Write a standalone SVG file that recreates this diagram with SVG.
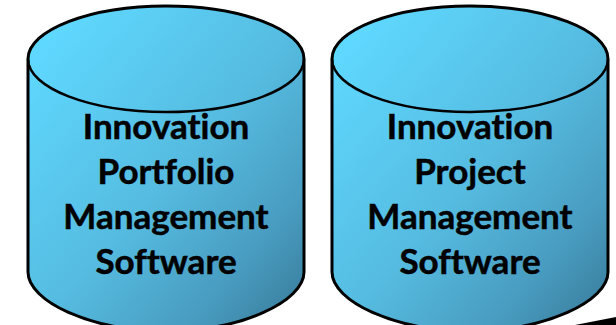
<svg xmlns="http://www.w3.org/2000/svg" width="616" height="325" viewBox="0 0 616 325">
<defs>
<linearGradient id="g" gradientUnits="objectBoundingBox" x1="0.08" y1="0.08" x2="0.95" y2="0.98">
<stop offset="0" stop-color="#5fd8ff"/><stop offset="0.5" stop-color="#56bbe0"/><stop offset="0.8" stop-color="#489cc0"/><stop offset="1" stop-color="#3a7d9c"/>
</linearGradient>
<path id="cyl" d="M28 59C28 30 90 6 166 6S304 30 304 59V272C304 301 242 331 166 331S28 301 28 272Z"/>
</defs>
<style>
.b{fill:url(#g);stroke:#000;stroke-width:3}
.r{fill:none;stroke:#000;stroke-width:2.5}
text{font-family:Lato,"Open Sans",sans-serif;font-weight:700;font-size:35px;font-variant-ligatures:none;fill:#000;stroke:#000;stroke-width:0.5;text-anchor:middle}
</style>
<rect width="616" height="325" fill="#fff"/>
<path d="M575 325L616 317V325Z" fill="#000"/>
<g id="node-portfolio">
<use href="#cyl" class="b"/>
<path class="r" d="M28 59C28 88 90 112 166 112S304 88 304 59"/>
<text x="166" y="139">Innovation</text>
<text x="166" y="184">Portfolio</text>
<text x="166" y="229">Management</text>
<text x="166" y="274">Software</text>
</g>
<g id="node-project" transform="translate(304 0)">
<use href="#cyl" class="b"/>
<path class="r" d="M28 59C28 88 90 112 166 112S304 88 304 59"/>
<text x="166" y="139">Innovation</text>
<text x="166" y="184">Project</text>
<text x="166" y="229">Management</text>
<text x="166" y="274">Software</text>
</g>
<g id="connectors"/>
</svg>
